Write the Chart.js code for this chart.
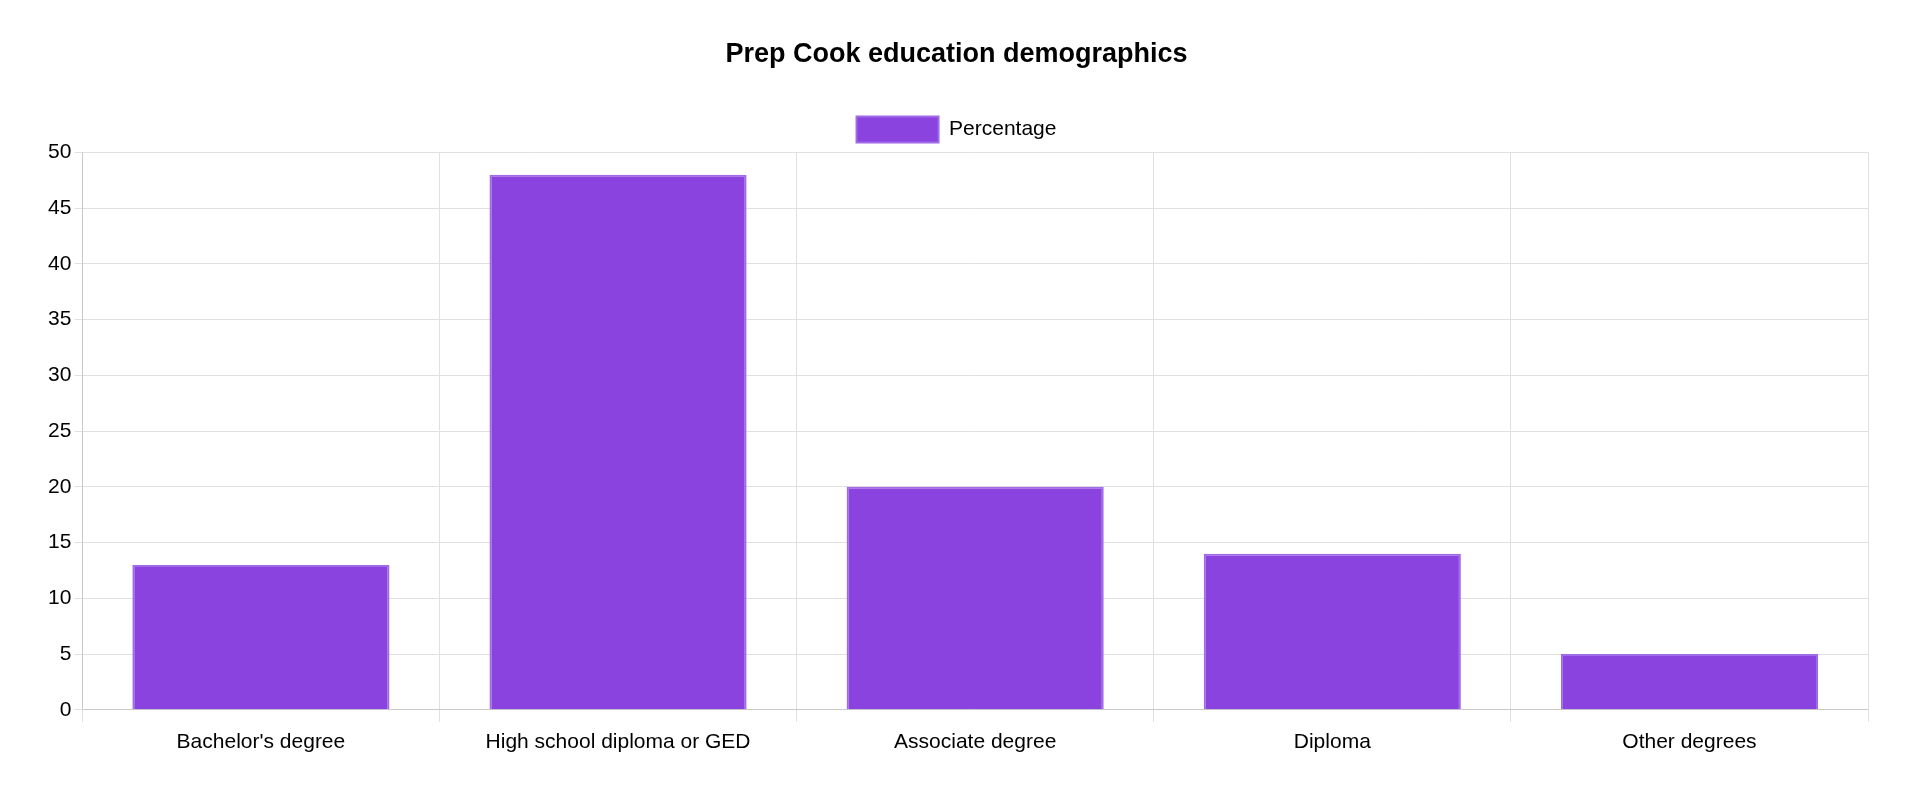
<!DOCTYPE html>
<html>
<head>
<meta charset="utf-8">
<script src="https://cdn.jsdelivr.net/npm/chart.js@4.4.0/dist/chart.umd.js"></script>
<style>
  html, body { margin: 0; padding: 0; background: #fff; }
  #wrap { width: 1906px; height: 788px; }
</style>
</head>
<body>
<div id="wrap"><canvas id="chart"></canvas></div>
<script>
// Prep Cook education demographics
const categories = ["Bachelor's degree", 'High school diploma or GED', 'Associate degree', 'Diploma', 'Other degrees'];
const percentages = [13, 48, 20, 14, 5];

const fontFamily = 'Helvetica, "Liberation Sans", Arial, sans-serif';

new Chart(document.getElementById('chart'), {
    type: 'bar',
    data: {
        labels: categories,
        datasets: [{
            label: 'Percentage',
            data: percentages,
            backgroundColor: '#8a43de',
            borderColor: '#a06ae8',
            borderWidth: 2
        }]
    },
    options: {
        responsive: true,
        maintainAspectRatio: false,
        animation: false,
        layout: { padding: { left: 45, right: 38, bottom: 25 } },
        plugins: {
            title: {
                display: true,
                text: 'Prep Cook education demographics',
                color: '#000',
                font: { family: fontFamily, size: 27, weight: 'bold' },
                padding: { top: 38, bottom: 36 }
            },
            legend: {
                labels: {
                    color: '#000',
                    boxWidth: 82,
                    boxHeight: 26,
                    font: { family: fontFamily, size: 21 }
                }
            }
        },
        scales: {
            x: {
                ticks: { color: '#000', font: { family: fontFamily, size: 21 }, padding: 8 },
                grid: { color: '#e0e0e0', tickLength: 12 }
            },
            y: {
                beginAtZero: true,
                max: 50,
                ticks: { stepSize: 5, color: '#000', font: { family: fontFamily, size: 21 } },
                grid: { color: '#e0e0e0' }
            }
        }
    }
});
</script>
</body>
</html>
